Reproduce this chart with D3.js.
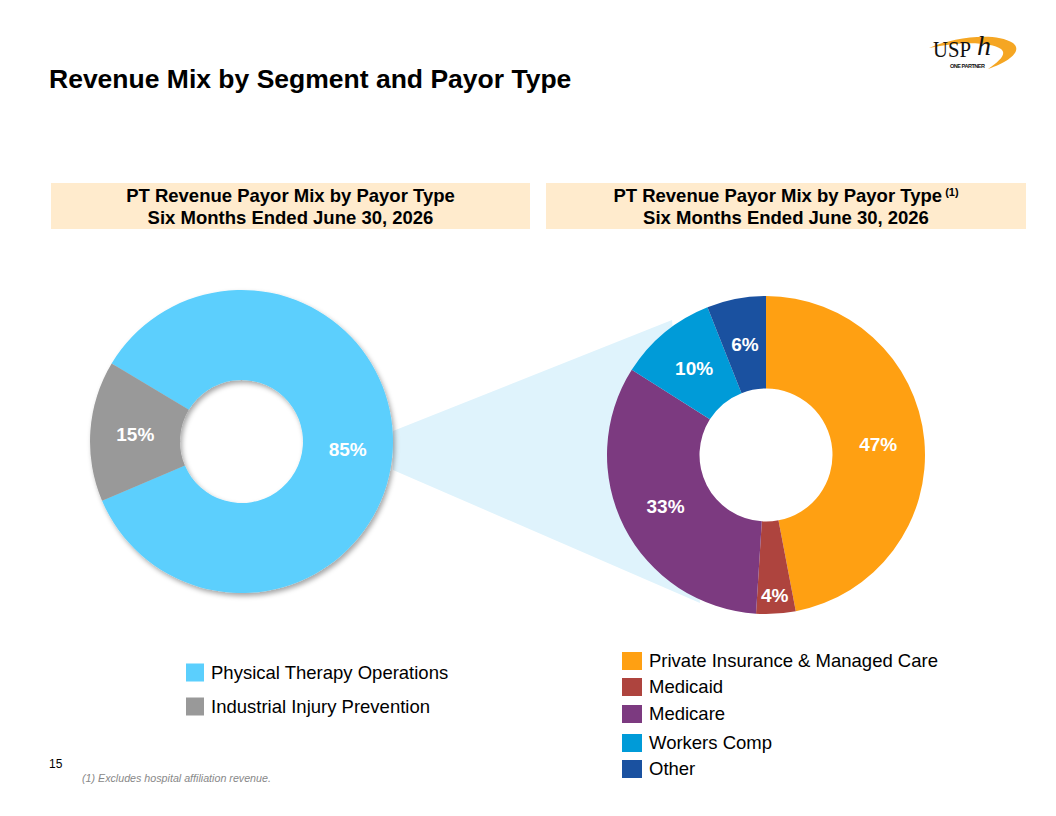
<!DOCTYPE html>
<html lang="en">
<head>
  <meta charset="utf-8">
  <title>Revenue Mix by Segment and Payor Type</title>
  <script src="https://cdn.jsdelivr.net/npm/d3@7"></script>
  <style>
    body { margin: 0; background: #fff; }
    svg { font-family: Arial, "Liberation Sans", sans-serif; display: block; }
  </style>
</head>
<body>
<svg width="1056" height="816"></svg>
<script>
  // segment mix (left donut)
  var segNames = ["Physical Therapy Operations", "Industrial Injury Prevention"];
  var segValues = [85, 15];
  var segColors = ["#5BCFFD", "#999999"];

  // payor mix (right donut)
  var payorNames = ["Private Insurance & Managed Care", "Medicaid", "Medicare", "Workers Comp", "Other"];
  var payorValues = [47, 4, 33, 10, 6];
  var payorColors = ["#FFA012", "#AE443E", "#7C3A80", "#009BD8", "#1A51A0"];

  var headerLine1 = "PT Revenue Payor Mix by Payor Type";
  var headerLine2 = "Six Months Ended June 30, 2026";

  var svg = d3.select("svg");
  var deg = Math.PI / 180;

  var defs = svg.append("defs");
  var f = defs.append("filter").attr("id", "shadow")
    .attr("x", "-10%").attr("y", "-10%").attr("width", "125%").attr("height", "125%");
  f.append("feDropShadow").attr("dx", 2).attr("dy", 3).attr("stdDeviation", 2.5)
    .attr("flood-color", "#000").attr("flood-opacity", 0.35);

  // title
  svg.append("text").attr("x", 49).attr("y", 88)
    .attr("font-size", 26.5).attr("font-weight", "bold").attr("fill", "#000")
    .text("Revenue Mix by Segment and Payor Type");

  // logo
  var logo = svg.append("g");
  logo.append("path")
    .attr("d", "M929,48 C955,37 995,32 1013,43 C1023,51 1009,62 988,69 C1000,61 1007,54 1001,49 C991,42 960,41 929,48 Z")
    .attr("fill", "#F5A623");
  var mark = logo.append("text").attr("x", 933).attr("y", 57)
    .attr("font-family", "'Liberation Serif', 'DejaVu Serif', serif")
    .attr("font-size", 24).attr("fill", "#111");
  mark.append("tspan").attr("textLength", 38).attr("lengthAdjust", "spacingAndGlyphs").text("USP");
  mark.append("tspan").attr("x", 977).attr("dy", -2)
    .attr("font-style", "italic").attr("font-size", 28).text("h");
  logo.append("text").attr("x", 950).attr("y", 68)
    .attr("font-size", 5.5).attr("font-weight", "bold").attr("fill", "#111")
    .attr("textLength", 35).text("ONE PARTNER");

  // header boxes
  var headers = [
    { x: 51, w: 479, sup: false },
    { x: 546, w: 480, sup: true }
  ];
  headers.forEach(function (h) {
    svg.append("rect").attr("x", h.x).attr("y", 183).attr("width", h.w).attr("height", 46)
      .attr("fill", "#FFEBCD");
    var cx = h.x + h.w / 2;
    var t1 = svg.append("text").attr("x", cx).attr("y", 202)
      .attr("text-anchor", "middle").attr("font-size", 18.5).attr("font-weight", "bold")
      .attr("fill", "#000");
    t1.append("tspan").text(headerLine1);
    if (h.sup) {
      t1.append("tspan").attr("font-size", 11).attr("dy", -6).text(" (1)");
    }
    svg.append("text").attr("x", cx).attr("y", 224)
      .attr("text-anchor", "middle").attr("font-size", 18.5).attr("font-weight", "bold")
      .attr("fill", "#000")
      .text(headerLine2);
  });

  // connector wedge between donuts
  svg.append("path")
    .attr("d", d3.line()([[393, 431], [672, 320], [700, 603], [393, 470]]) + "Z")
    .attr("fill", "#DFF3FC");

  function donut(cx, cy, rOuter, rInner, values, colors, startDeg, shadow) {
    var pie = d3.pie().sort(null).value(function (d) { return d; })
      .startAngle(startDeg * deg).endAngle(startDeg * deg + 2 * Math.PI);
    var arc = d3.arc().innerRadius(rInner).outerRadius(rOuter);
    var g = svg.append("g").attr("transform", "translate(" + cx + "," + cy + ")");
    var arcs = pie(values);
    var sg = g.append("g");
    if (shadow) sg.attr("filter", "url(#shadow)");
    sg.selectAll("path").data(arcs).enter().append("path")
      .attr("d", arc)
      .attr("fill", function (d, i) { return colors[i]; });
    g.selectAll("text").data(arcs).enter().append("text")
      .attr("transform", function (d) {
        var a = (d.startAngle + d.endAngle) / 2;
        var r = d.data < 5 ? rOuter - 19 : (rInner + rOuter) / 2;
        return "translate(" + (Math.sin(a) * r) + "," + (-Math.cos(a) * r) + ")";
      })
      .attr("text-anchor", "middle").attr("dy", "0.36em")
      .attr("font-size", 19).attr("font-weight", "bold").attr("fill", "#fff")
      .text(function (d) { return d.data + "%"; });
  }

  donut(241.5, 441.5, 151.5, 61.5, segValues, segColors, -59, true);
  donut(766, 455, 159, 66.5, payorValues, payorColors, 0, false);

  // legends
  function legend(x, ys, names, colors, sw, sh) {
    names.forEach(function (n, i) {
      svg.append("rect").attr("x", x).attr("y", ys[i] - sh / 2).attr("width", sw).attr("height", sh)
        .attr("fill", colors[i]);
      svg.append("text").attr("x", x + sw + 7).attr("y", ys[i]).attr("dy", "0.35em")
        .attr("font-size", 18.5).attr("fill", "#000").text(n);
    });
  }
  legend(186, [672.5, 706.5], segNames, segColors, 18, 18);
  legend(622, [661, 687, 714, 743, 769], payorNames, payorColors, 20, 18);

  // page number and footnote
  svg.append("text").attr("x", 49).attr("y", 768).attr("font-size", 12).attr("fill", "#000").text("15");
  svg.append("text").attr("x", 82).attr("y", 782).attr("font-size", 10.7).attr("font-style", "italic")
    .attr("fill", "#888").text("(1) Excludes hospital affiliation revenue.");
</script>
</body>
</html>
